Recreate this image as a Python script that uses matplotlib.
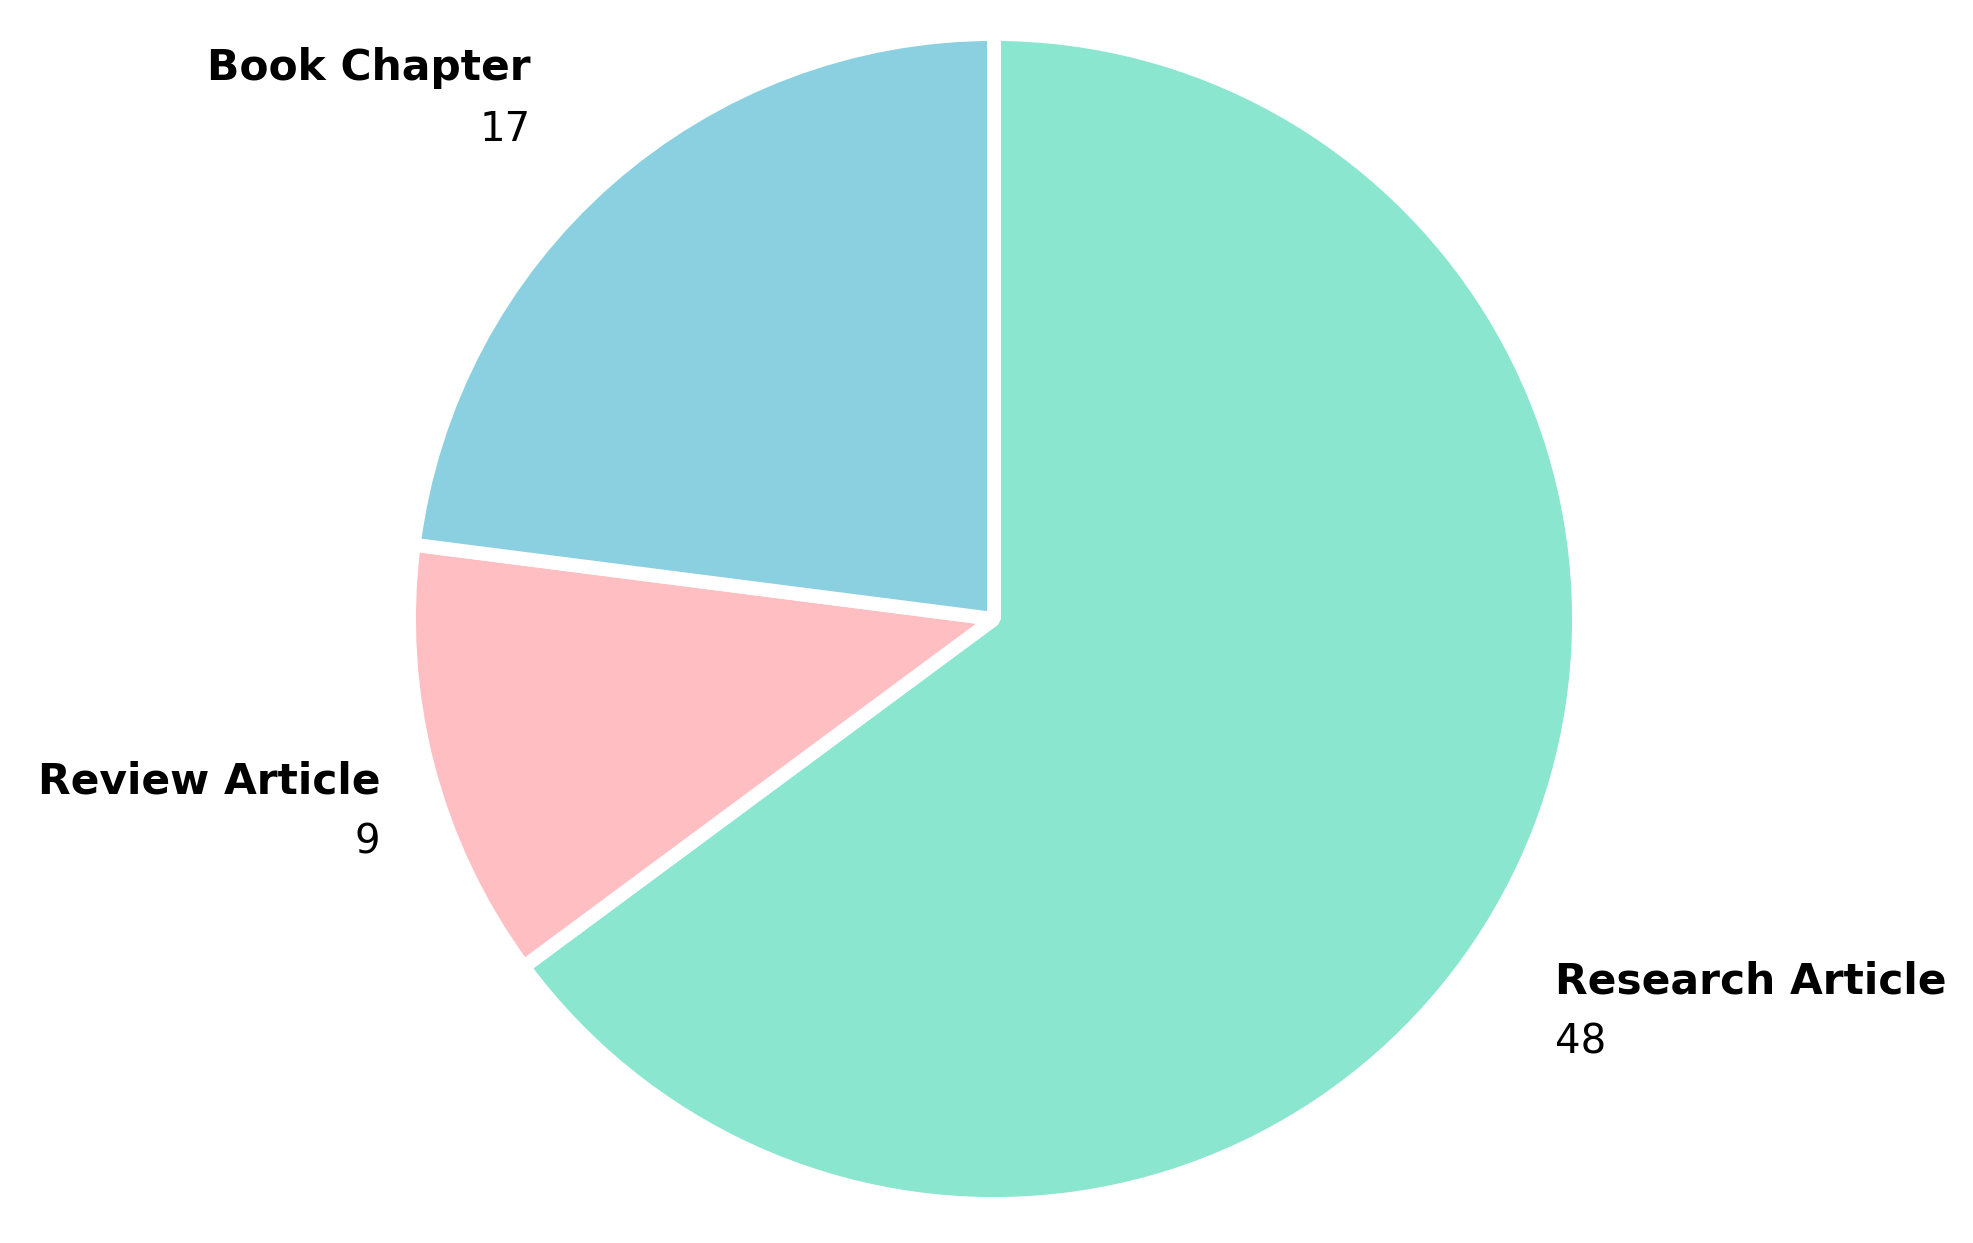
import matplotlib.pyplot as plt

# ── Data ─────────────────────────────────────────────────────────
categories = ['Research Article', 'Review Article', 'Book Chapter']
counts = [48, 9, 17]
colors = ['#8ae6cf', '#ffbec2', '#8ad0e1']

# ── Layout (figure pixels, origin top-left) ──────────────────────
W, H = 1974, 1243
CENTER = (994, 619)
RADIUS = 585
label_pos = {
    'Research Article': (1555, 993, 'left'),
    'Review Article': (380, 793, 'right'),
    'Book Chapter': (531, 80, 'right'),
}
LINE_GAP = 61

plt.rcParams['font.family'] = ['DejaVu Sans']

fig = plt.figure(figsize=(W / 100, H / 100), dpi=100)
ax = fig.add_axes([0, 0, 1, 1])
ax.set_xlim(0, W)
ax.set_ylim(0, H)
ax.set_aspect('equal')
ax.axis('off')

ax.pie(counts, colors=colors, startangle=90, counterclock=False,
       center=(CENTER[0], H - CENTER[1]), radius=RADIUS,
       wedgeprops=dict(edgecolor='white', linewidth=10, joinstyle='bevel'))
ax.set_xlim(0, W)
ax.set_ylim(0, H)

for name, val in zip(categories, counts):
    x, y, ha = label_pos[name]
    ax.text(x, H - y, name, ha=ha, va='baseline', fontsize=30.5,
            fontweight='bold', color='black')
    ax.text(x, H - y - LINE_GAP, str(val), ha=ha, va='baseline',
            fontsize=29, color='black')

fig.savefig('out.png', dpi=100, facecolor='white')
